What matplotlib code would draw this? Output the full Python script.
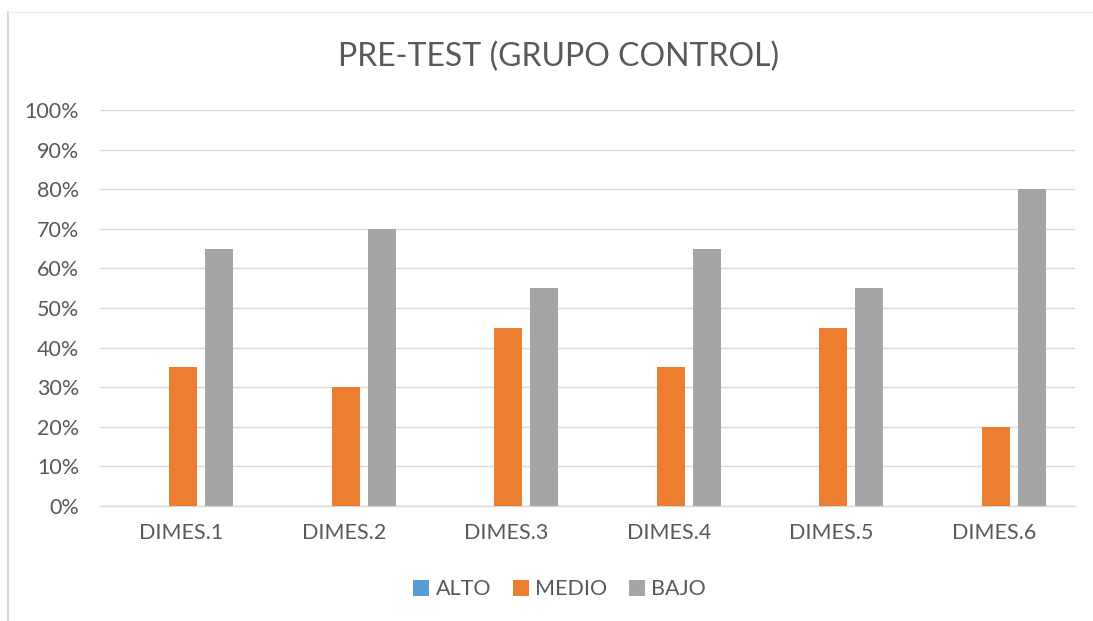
import matplotlib.pyplot as plt
from matplotlib.lines import Line2D
from matplotlib.patches import Patch
import numpy as np

plt.rcParams['font.family'] = ['Lato', 'DejaVu Sans']

categories = ['DIMES.1', 'DIMES.2', 'DIMES.3', 'DIMES.4', 'DIMES.5', 'DIMES.6']
alto = [0, 0, 0, 0, 0, 0]
medio = [35, 30, 45, 35, 45, 20]
bajo = [65, 70, 55, 65, 55, 80]

series = [('ALTO', alto, '#5B9BD5'), ('MEDIO', medio, '#ED7D31'), ('BAJO', bajo, '#A5A5A5')]
text_color = '#595959'

fig = plt.figure(figsize=(10.93, 6.21), dpi=100)
ax = fig.add_axes([0.0915, 0.1852, 0.892, 0.6377])

x = np.arange(len(categories))
width = 0.172
offsets = [-0.21, 0.012, 0.234]
for (name, vals, color), off in zip(series, offsets):
    ax.bar(x + off, vals, width, color=color, label=name, zorder=3)

ax.set_xlim(-0.5, len(categories) - 0.5)
ax.set_ylim(0, 100)
ax.set_yticks(range(0, 101, 10))
ax.set_yticklabels([f'{v}%' for v in range(0, 101, 10)])
ax.set_xticks(x)
ax.set_xticklabels(categories)
ax.tick_params(length=0, labelsize=15.5, colors=text_color)
ax.tick_params(axis='x', pad=12)
ax.tick_params(axis='y', pad=15)
ax.grid(axis='y', color='#D9D9D9', linewidth=1, zorder=0)
for s in ['top', 'right', 'left']:
    ax.spines[s].set_visible(False)
ax.spines['bottom'].set_color('#D9D9D9')
ax.spines['bottom'].set_linewidth(1)

fig.text(0.511, 0.908, 'PRE-TEST (GRUPO CONTROL)', ha='center', va='center',
         fontsize=23, color=text_color)

handles = [Patch(facecolor=c, label=n) for n, _, c in series]
fig.legend(handles=handles, loc='center', bbox_to_anchor=(0.512, 0.051), ncol=3,
           frameon=False, fontsize=15.5, labelcolor=text_color,
           handlelength=0.75, handleheight=0.75, handletextpad=0.3, columnspacing=1.0)

# chart border
fig.add_artist(Line2D([0.0075, 0.0075], [0.0, 0.981], color='#D9D9D9', linewidth=1.5))
fig.add_artist(Line2D([0.0075, 1.0], [0.981, 0.981], color='#F0F0F0', linewidth=1))

plt.savefig('out.png', dpi=100, facecolor='white')
